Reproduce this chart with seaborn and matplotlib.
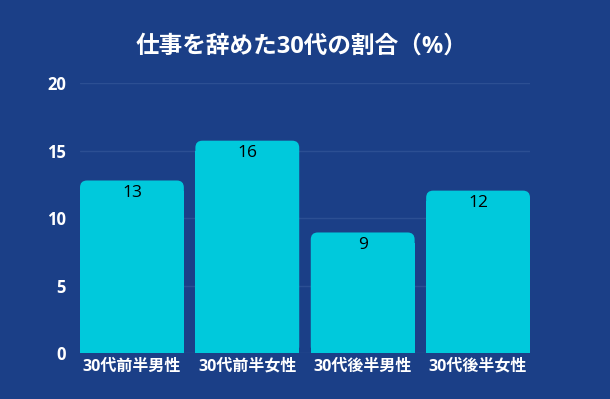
import matplotlib
matplotlib.use("Agg")
import matplotlib.pyplot as plt
from matplotlib.patches import FancyBboxPatch
import seaborn as sns
import pandas as pd

# data
categories = ["30代前半男性", "30代前半女性", "30代後半男性", "30代後半女性"]
values = [12.8, 15.75, 8.95, 12.05]
y_ticks = [0, 5, 10, 15, 20]

bg = "#1b3f87"
bar_color = "#00c9dc"
grid_color = "#2c4f93"

sns.set_theme(style="dark")
plt.rcParams["font.family"] = ["Open Sans", "Noto Sans CJK JP", "DejaVu Sans"]

df = pd.DataFrame({"group": categories, "rate": values})

fig = plt.figure(figsize=(6.10, 3.99), dpi=100, facecolor=bg)
ax = fig.add_axes([80 / 610, 1 - 353.3 / 399, 450 / 610, 270 / 399])
ax.set_facecolor(bg)

sns.barplot(data=df, x="group", y="rate", color=bar_color, width=0.9,
            saturation=1, linewidth=0, edgecolor="none", ax=ax, zorder=3)

ax.set_xlim(-0.45, 3.45)
ax.set_ylim(0, 20)
ax.set_yticks(y_ticks)

# round the top corners of the bars
px_x = 450 / 3.9
px_y = 270 / 20
r_px = 7
for p in list(ax.patches):
    x, w, h = p.get_x(), p.get_width(), p.get_height()
    rb = FancyBboxPatch((x, 0), w, h,
                        boxstyle=f"round,pad=0,rounding_size={r_px / px_x}",
                        mutation_aspect=px_x / px_y,
                        facecolor=bar_color, edgecolor="none", zorder=3)
    ax.add_patch(rb)
    p.set_height(h - r_px / px_y * 1.5)
    p.set_edgecolor("none")

# value labels just under the bar top
for i, v in enumerate(values):
    ax.annotate(f"{v:.0f}", (i, v), xytext=(0, -3), textcoords="offset points",
                ha="center", va="top", fontsize=12.5, color="black", zorder=5)

ax.grid(axis="y", color=grid_color, linewidth=1, zorder=0)
ax.grid(axis="x", visible=False)
for s in ax.spines.values():
    s.set_visible(False)

ax.set_xlabel("")
ax.set_ylabel("")
ax.tick_params(axis="both", length=0, colors="white")
ax.tick_params(axis="y", pad=10)
ax.tick_params(axis="x", pad=4)
for t in ax.get_xticklabels():
    t.set_fontsize(11.5)
    t.set_fontweight("bold")
for t in ax.get_yticklabels():
    t.set_fontsize(12)
    t.set_fontweight("bold")

fig.text(0.495, 1 - 47 / 399, "仕事を辞めた30代の割合（%）", ha="center", va="center",
         fontsize=17, fontweight="bold", color="white")

fig.savefig("out.png", dpi=100, facecolor=bg)
